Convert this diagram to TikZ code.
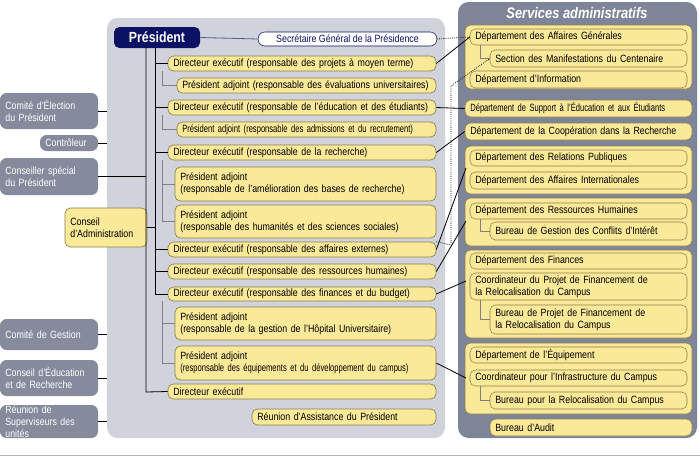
\documentclass[tikz,border=0pt]{standalone}
\usepackage{fontspec}
\setmainfont[FakeStretch=0.84]{Liberation Sans}
\newfontfamily\nar[FakeStretch=0.72]{Liberation Sans}
\usetikzlibrary{positioning,calc}
\definecolor{panelclair}{HTML}{D0D3DB}
\definecolor{panelfonce}{HTML}{7F8599}
\definecolor{gris}{HTML}{858A9C}
\definecolor{jaune}{HTML}{FBE99A}
\definecolor{bordjaune}{HTML}{8C7E4A}
\definecolor{marine}{HTML}{0B1263}
\tikzset{
  x=0.75pt, y=-0.75pt,
  jbox/.style={draw=bordjaune, fill=jaune, rounded corners=4pt, line width=0.5pt},
  sbox/.style={draw=bordjaune, rounded corners=4pt, line width=0.4pt},
  gbox/.style={fill=gris, rounded corners=5pt, text=white},
  lien/.style={line width=0.6pt},
  fin/.style={draw=gray, line width=0.5pt},
  pointille/.style={densely dotted, line width=0.6pt},
}
% boite: nom, style, x1, y1, x2, y2, texte (pixel coordinates)
\newcommand\boite[7]{%
  \node[#2, anchor=center, inner xsep=4pt, inner ysep=0pt, align=left,
    minimum width={(#5-#3)*0.75pt}, minimum height={(#6-#4)*0.75pt},
    text width={(#5-#3)*0.75pt-8pt}, font=\fontsize{7.9}{9}\selectfont]
    (#1) at ({(#3+#5)/2},{(#4+#6)/2}) {#7};}
\begin{document}
\begin{tikzpicture}
\useasboundingbox (0,0) rectangle (700,461);
\fill[white] (0,0) rectangle (700,461);
\draw[gray!60, line width=0.5pt] (0,455) -- (700,455);

% panneaux
\fill[panelclair, rounded corners=8pt] (107,18) rectangle (445,438);
\fill[panelfonce, rounded corners=8pt] (458,2) rectangle (697,438);
\node[text=white, font=\fontsize{11.5}{12}\bfseries\itshape\selectfont] (titre) at (577,13) {Services administratifs};

% groupes a droite
\foreach \ya/\yb in {25/89, 146/194, 198/246, 250/338, 343/414}
  \draw[jbox] (465,\ya) rectangle (692,\yb);

% president
\node[fill=marine, rounded corners=4pt, text=white, font=\fontsize{11}{12}\bfseries\selectfont,
  minimum width=64.5pt, minimum height=15.75pt] (pres) at (157,37.5) {Président};
\node[draw=marine, fill=white, rounded corners=5pt, text=marine, font=\fontsize{7.9}{9}\selectfont,
  minimum width=134pt, minimum height=10.5pt, inner ysep=0pt] (sg) at (347.5,39) {Secrétaire Général de la Présidence};

% colonne centrale
\boite{de1}{jbox}{168}{56}{436}{71}{Directeur exécutif (responsable des projets à moyen terme)}
\boite{pa1}{jbox}{177}{78}{436}{93}{Président adjoint (responsable des évaluations universitaires)}
\boite{de2}{jbox}{168}{100}{436}{115}{Directeur exécutif (responsable de l’éducation et des étudiants)}
\boite{pa2}{jbox}{177}{122}{436}{137}{{\nar Président adjoint (responsable des admissions et du recrutement)}}
\boite{de3}{jbox}{168}{145}{436}{160}{Directeur exécutif (responsable de la recherche)}
\boite{pa3}{jbox}{175}{167}{436}{201}{Président adjoint\\(responsable de l’amélioration des bases de recherche)}
\boite{pa4}{jbox}{175}{205}{436}{238}{Président adjoint\\(responsable des humanités et des sciences sociales)}
\boite{de4}{jbox}{168}{242}{436}{257}{Directeur exécutif (responsable des affaires externes)}
\boite{de5}{jbox}{168}{264}{436}{279}{Directeur exécutif (responsable des ressources humaines)}
\boite{de6}{jbox}{168}{287}{436}{301}{Directeur exécutif (responsable des finances et du budget)}
\boite{pa5}{jbox}{175}{307}{436}{340}{Président adjoint\\(responsable de la gestion de l’Hôpital Universitaire)}
\boite{pa6}{jbox}{175}{346}{436}{380}{Président adjoint\\{\nar(responsable des équipements et du développement du campus)}}
\boite{de7}{jbox}{168}{384}{436}{399}{Directeur exécutif}
\boite{rap}{jbox}{252}{409}{436}{425}{\centering Réunion d’Assistance du Président}

% colonne de gauche
\boite{cep}{gbox}{0}{93}{98}{129}{Comité d’Élection\\du Président}
\boite{ctr}{gbox}{40}{135}{98}{151}{\raggedleft Contrôleur}
\boite{csp}{gbox}{0}{158}{98}{195}{Conseiller spécial\\du Président}
\boite{ca}{jbox}{65}{208}{147}{247}{Conseil\\d’Administration}
\boite{cg}{gbox}{0}{319}{98}{350}{Comité de Gestion}
\boite{cer}{gbox}{0}{360}{98}{396}{Conseil d’Éducation\\et de Recherche}
\boite{rsu}{gbox}{0}{405}{98}{438}{Réunion de\\Superviseurs des\\unités}

% services administratifs
\boite{dag}{sbox}{470}{29}{687}{45}{Département des Affaires Générales}
\boite{smc}{sbox}{490}{50}{687}{67}{Section des Manifestations du Centenaire}
\boite{dinf}{sbox}{470}{71}{687}{88}{Département d'Information}
\boite{dse}{jbox}{465}{100}{692}{117}{{\nar Département de Support à l’Éducation et aux Étudiants}}
\boite{dcr}{jbox}{465}{123}{692}{140}{Département de la Coopération dans la Recherche}
\boite{drp}{sbox}{470}{150}{687}{166}{Département des Relations Publiques}
\boite{dai}{sbox}{470}{172}{687}{189}{Département des Affaires Internationales}
\boite{drh}{sbox}{470}{203}{687}{219}{Département des Ressources Humaines}
\boite{bgc}{sbox}{490}{222}{687}{240}{Bureau de Gestion des Conflits d’Intérêt}
\boite{dfi}{sbox}{470}{253}{687}{269}{Département des Finances}
\boite{cpf}{sbox}{470}{273}{687}{300}{Coordinateur du Projet de Financement de\\la Relocalisation du Campus}
\boite{bpf}{sbox}{490}{305}{687}{334}{Bureau de Projet de Financement de\\la Relocalisation du Campus}
\boite{deq}{sbox}{470}{347}{687}{363}{Département de l’Équipement}
\boite{cic}{sbox}{470}{370}{687}{386}{Coordinateur pour l’Infrastructure du Campus}
\boite{brc}{sbox}{490}{392}{687}{409}{Bureau pour la Relocalisation du Campus}
\boite{bau}{jbox}{490}{419}{692}{436}{Bureau d’Audit}

% organigramme
\draw[lien, marine!70] (pres.east) -- (sg.west);
\draw[lien] (146,48) -- (146,392) -- (de7.west);
\draw[lien] (155,48) -- (155,294);
\foreach \n in {de1,de2,de3,de4,de5,de6}
  \draw[lien] (155,0 |- \n.west) -- (\n.west);
\draw[lien] (ca.east) -- (155,0 |- ca.east);
\draw[lien] (csp.east) -- (146,0 |- csp.east);
\foreach \n in {cep,ctr,cg,cer,rsu}
  \draw[lien] (\n.east) -- (107,0 |- \n.east);
% sous-liens
\draw[fin] (162,0 |- de1.south) |- (pa1.west);
\draw[fin] (162,0 |- de2.south) |- (pa2.west);
\draw[fin] (162,0 |- de3.south) |- (pa4.west);
\draw[fin] (162,0 |- pa3.west) -- (pa3.west);
\draw[fin] (162,0 |- de6.south) |- (pa6.west);
\draw[fin] (162,0 |- pa5.west) -- (pa5.west);
\draw[fin] (480,0 |- dag.south) |- (smc.west);
\draw[fin] (480,0 |- drh.south) |- (bgc.west);
\draw[fin] (480,0 |- cpf.south) |- (bpf.west);
\draw[fin] (480,0 |- cic.south) |- (brc.west);

% liens vers les services
\draw[pointille] (sg.east) -- (dag.west);
\draw[lien] (de1.east) -- (dag.west);
\draw[lien] (de2.east) -- (dse.west);
\draw[lien] (de3.east) -- (dcr.west);
\draw[pointille] (de4.north east) -- (451,245) -- (451,86) -- (smc.west);
\draw[lien] (de4.east) -- (466,168);
\draw[lien] (de5.east) -- (466,221);
\draw[lien] (de6.east) -- (466,281);
\draw[lien] (pa6.east) -- (466,378);
\end{tikzpicture}
\end{document}
